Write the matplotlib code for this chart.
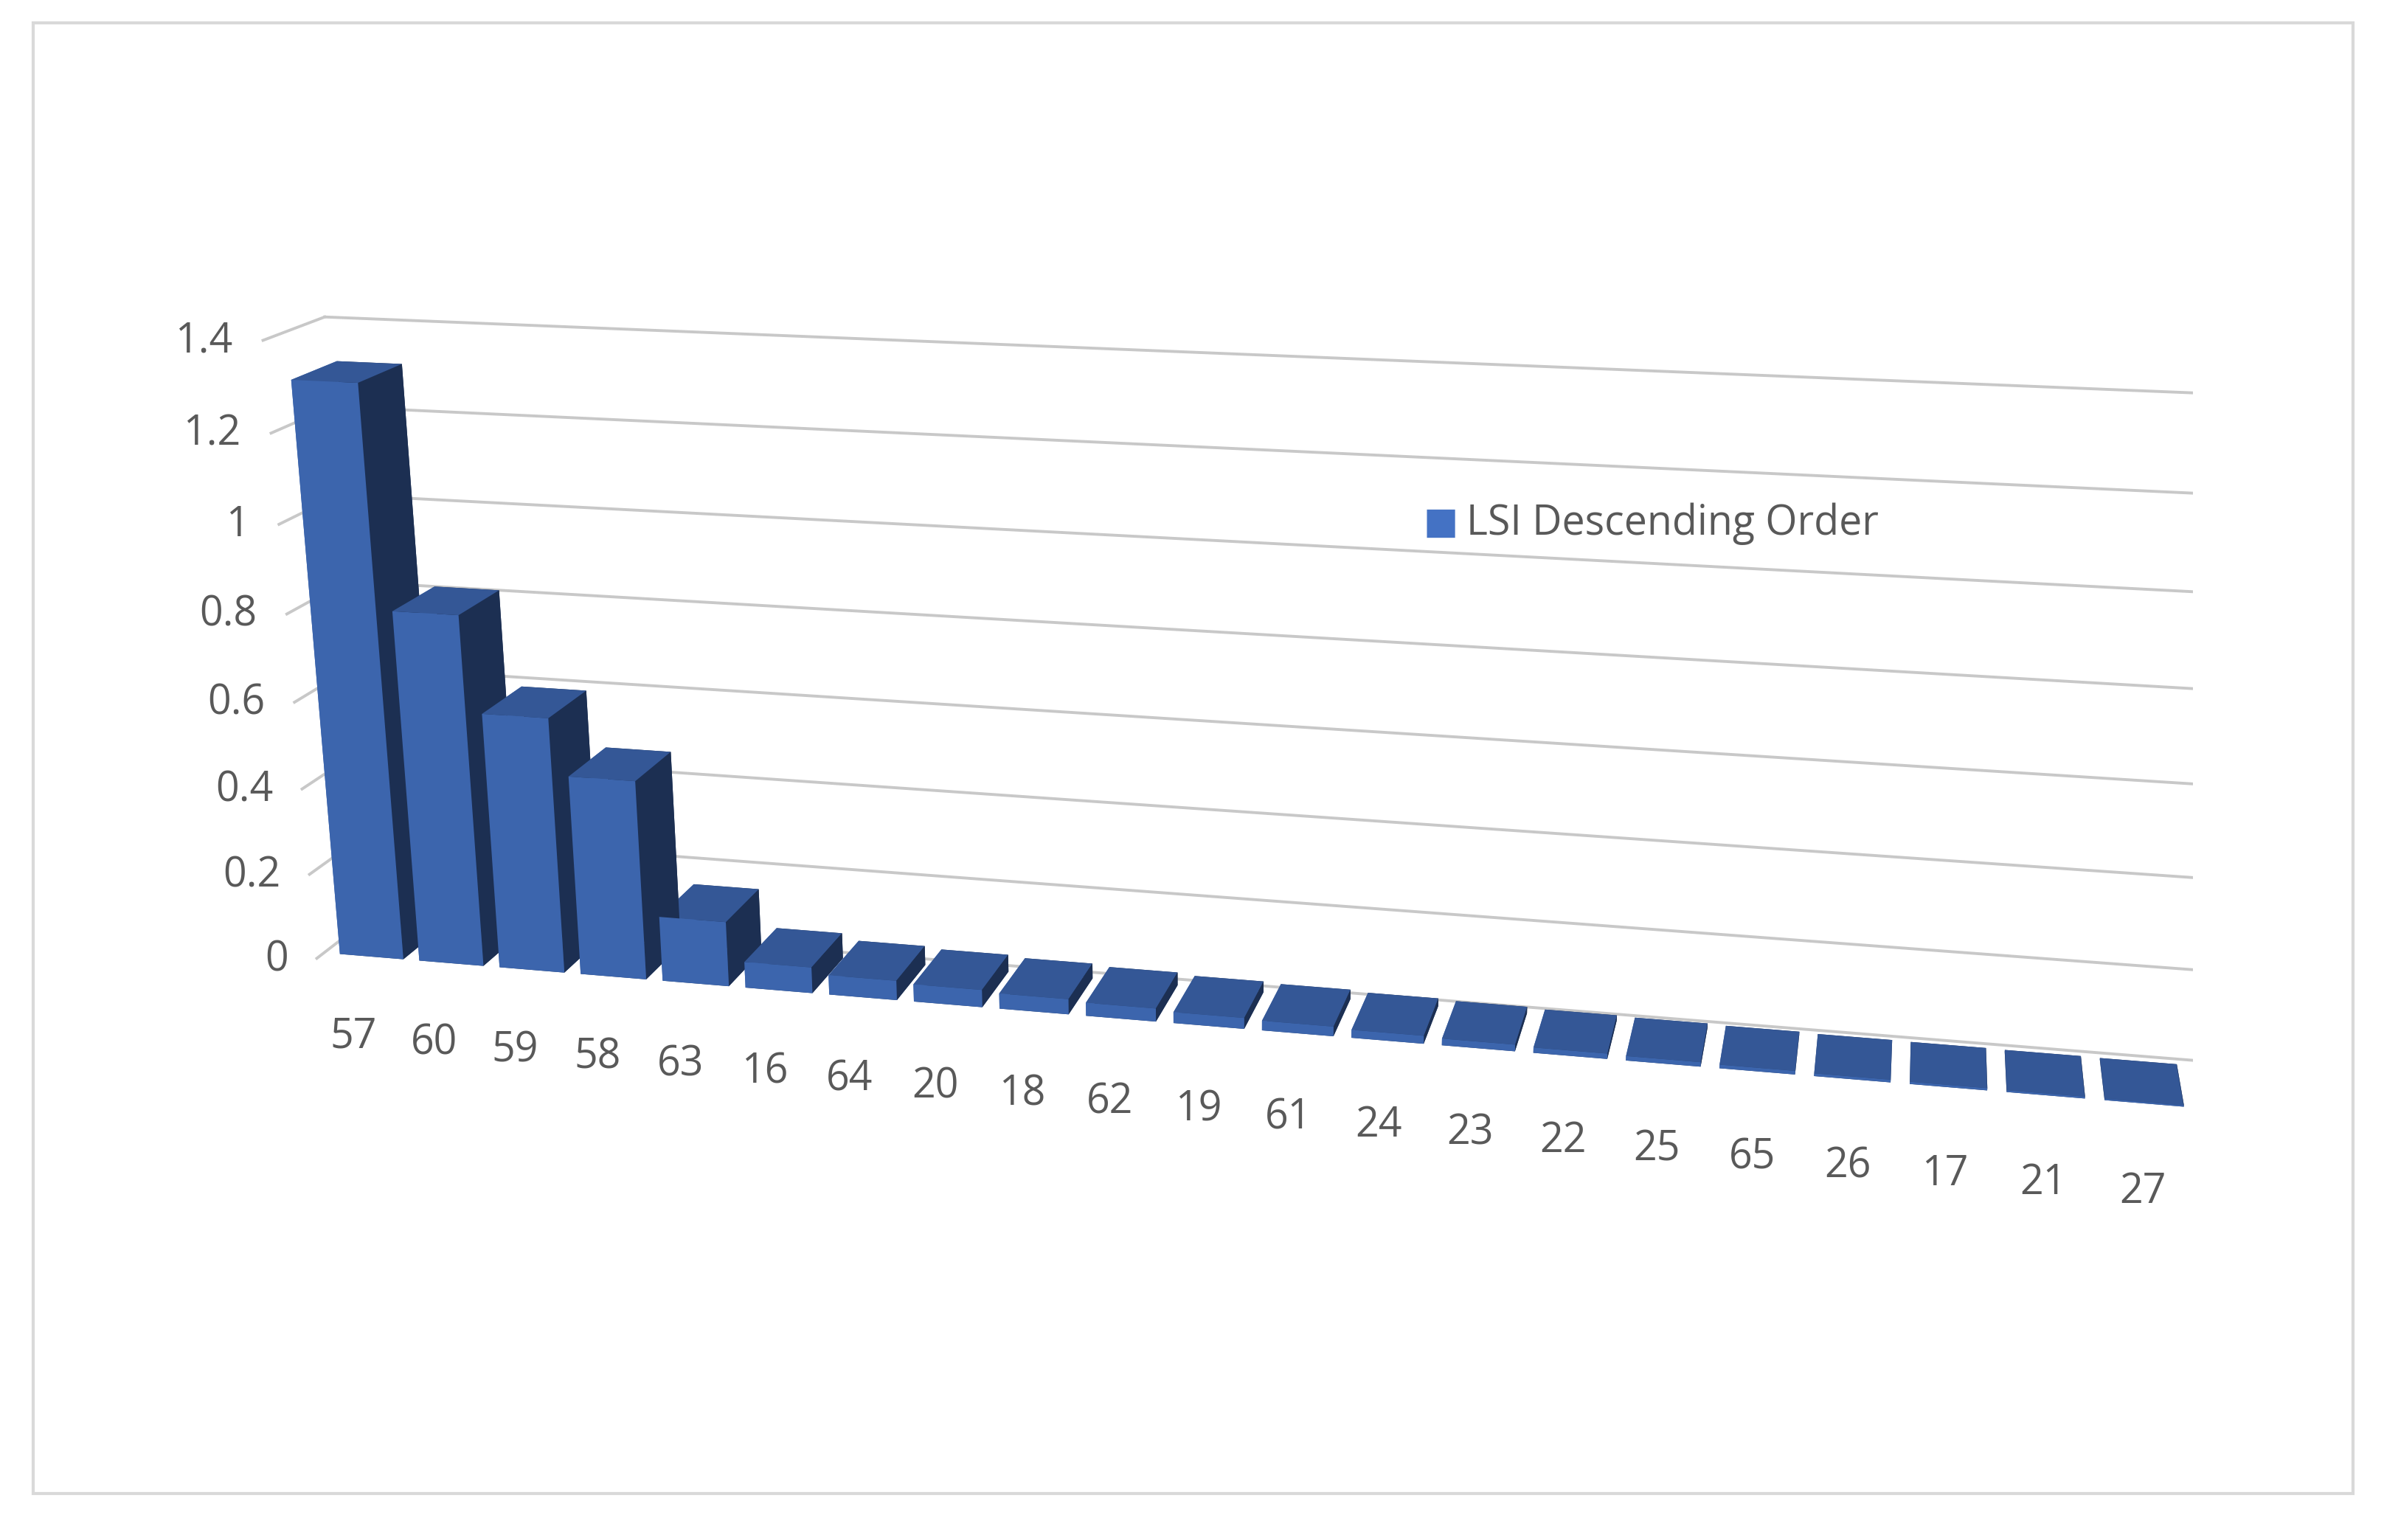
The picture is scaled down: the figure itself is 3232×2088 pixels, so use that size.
import matplotlib.pyplot as plt
import numpy as np
from matplotlib.patches import Rectangle

# ── Data ──────────────────────────────────────────────
CATEGORIES = ["57", "60", "59", "58", "63", "16", "64", "20", "18", "62", "19",
              "61", "24", "23", "22", "25", "65", "26", "17", "21", "27"]
LSI = [1.31, 0.81, 0.59, 0.46, 0.15, 0.06, 0.045, 0.04, 0.035, 0.03, 0.025,
       0.022, 0.018, 0.015, 0.012, 0.01, 0.008, 0.006, 0.005, 0.004, 0.003]
Z_TICKS = [0, 0.2, 0.4, 0.6, 0.8, 1, 1.2, 1.4]
Z_LABELS = ["0", "0.2", "0.4", "0.6", "0.8", "1", "1.2", "1.4"]
SERIES = "LSI Descending Order"
# ──────────────────────────────────────────────────────

BAR = "#4472C4"
TXT = "#595959"
plt.rcParams["font.family"] = ["Open Sans", "DejaVu Sans"]

fig = plt.figure(figsize=(16.16, 10.44), dpi=200)
fig.patches.append(Rectangle((0.014, 0.03), 0.973, 0.955, transform=fig.transFigure,
                             fill=False, edgecolor="#d9d9d9", linewidth=1.5))

ax = fig.add_axes([-0.1, -0.12, 1.2, 1.3], projection="3d")
ax.set_proj_type("persp", focal_length=0.3)
ax.view_init(elev=17, azim=-78)
ax.set_axis_off()

n = len(CATEGORIES)
xs = np.arange(n)
ax.bar3d(xs - 0.4, np.full(n, -0.45), np.zeros(n), 0.8, 0.9, LSI,
         color=BAR, shade=True, edgecolor="none")

# back-wall gridlines and side-wall ticks
for z, lab in zip(Z_TICKS, Z_LABELS):
    ax.plot([-0.6, n - 0.4], [0.6, 0.6], [z, z], color="#c8c8c8", linewidth=1.4)
    ax.plot([-0.6, -0.6], [-0.6, 0.6], [z, z], color="#c8c8c8", linewidth=1.4)
    ax.text(-0.9, -0.7, z, lab, color=TXT, fontsize=20, ha="right", va="center")

for x, lab in zip(xs, CATEGORIES):
    ax.text(x, -0.9, -0.1, lab, color=TXT, fontsize=20, ha="center", va="top")

ax.set_xlim(-0.6, n - 0.4)
ax.set_ylim(-0.6, 0.6)
ax.set_zlim(0, 1.4)
ax.set_box_aspect((n * 0.9, 1.3, 6.5))

fig.text(0.597, 0.66, "\u25a0", color=BAR, fontsize=18, ha="left", va="center")
fig.text(0.615, 0.66, SERIES, color=TXT, fontsize=20, ha="left", va="center")

plt.savefig("out.png", dpi=200)
